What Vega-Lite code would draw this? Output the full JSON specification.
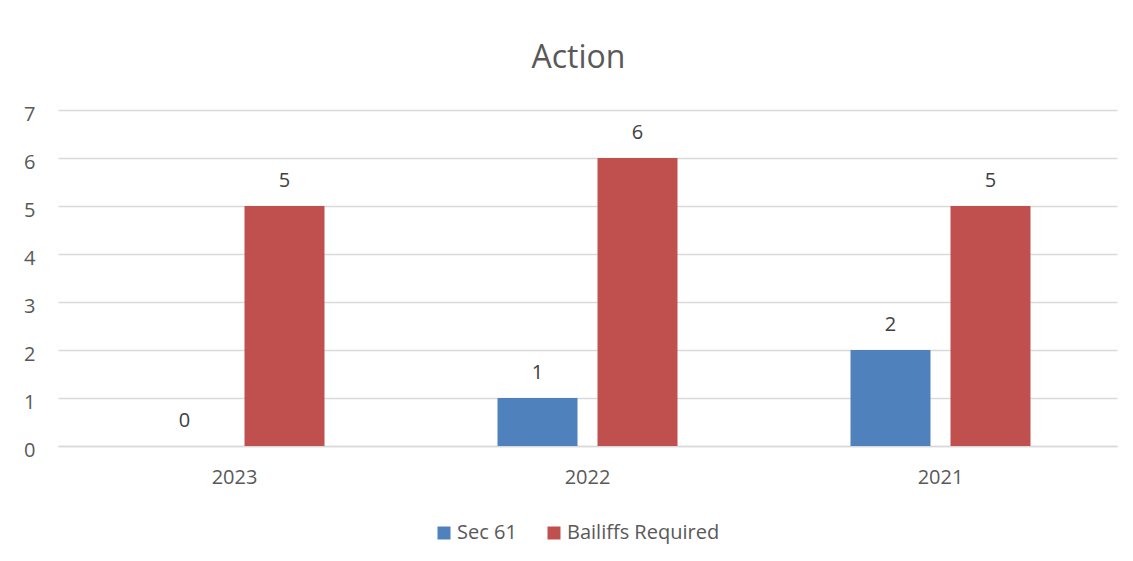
{
  "$schema": "https://vega.github.io/schema/vega-lite/v6.json",
  "width": 1059,
  "height": 336,
  "autosize": "none",
  "padding": {"left": 58, "top": 110, "right": 16, "bottom": 115},
  "background": "white",
  "title": {
    "text": "Action",
    "font": "Open Sans",
    "fontSize": 32,
    "fontWeight": "normal",
    "color": "#595959",
    "anchor": "middle",
    "baseline": "alphabetic",
    "offset": 4,
    "dx": -9
  },
  "data": {
    "values": [
      {"year": "2023", "series": "Sec 61", "value": 0},
      {"year": "2023", "series": "Bailiffs Required", "value": 5},
      {"year": "2022", "series": "Sec 61", "value": 1},
      {"year": "2022", "series": "Bailiffs Required", "value": 6},
      {"year": "2021", "series": "Sec 61", "value": 2},
      {"year": "2021", "series": "Bailiffs Required", "value": 5}
    ]
  },
  "encoding": {
    "x": {
      "field": "year",
      "type": "nominal",
      "sort": ["2023", "2022", "2021"],
      "scale": {"paddingInner": 0, "paddingOuter": 0},
      "axis": {
        "title": null,
        "labelAngle": 0,
        "labelFont": "Open Sans",
        "labelFontSize": 20,
        "labelColor": "#595959",
        "labelPadding": 21,
        "ticks": false,
        "domainColor": "#d9d9d9",
        "domainWidth": 1.5,
        "grid": false
      }
    },
    "xOffset": {
      "field": "series",
      "type": "nominal",
      "sort": ["Sec 61", "Bailiffs Required"],
      "scale": {"paddingInner": 0.2, "paddingOuter": 0.865}
    },
    "y": {
      "field": "value",
      "type": "quantitative",
      "scale": {"domain": [0, 7], "nice": false},
      "axis": {
        "title": null,
        "values": [0, 1, 2, 3, 4, 5, 6, 7],
        "labelOverlap": false,
        "labelFont": "Open Sans",
        "labelFontSize": 20,
        "labelColor": "#595959",
        "labelPadding": 23,
        "labelOffset": 4,
        "ticks": false,
        "domain": false,
        "gridColor": "#d9d9d9",
        "gridWidth": 1.5
      }
    }
  },
  "layer": [
    {
      "mark": {"type": "bar"},
      "encoding": {
        "color": {
          "field": "series",
          "type": "nominal",
          "sort": ["Sec 61", "Bailiffs Required"],
          "scale": {"domain": ["Sec 61", "Bailiffs Required"], "range": ["#4F81BD", "#C0504D"]},
          "legend": {
            "title": null,
            "orient": "none",
            "direction": "horizontal",
            "legendX": 376,
            "legendY": 413,
            "symbolType": "square",
            "symbolSize": 169,
            "symbolStrokeWidth": 0,
            "labelFont": "Open Sans",
            "labelFontSize": 20,
            "labelColor": "#595959",
            "labelOffset": 3,
            "columnPadding": 27
          }
        }
      }
    },
    {
      "mark": {
        "type": "text",
        "font": "Open Sans",
        "fontSize": 20,
        "color": "#404040",
        "baseline": "middle",
        "dy": -25
      },
      "encoding": {
        "text": {"field": "value", "type": "quantitative"}
      }
    }
  ],
  "config": {
    "view": {"stroke": null}
  }
}
